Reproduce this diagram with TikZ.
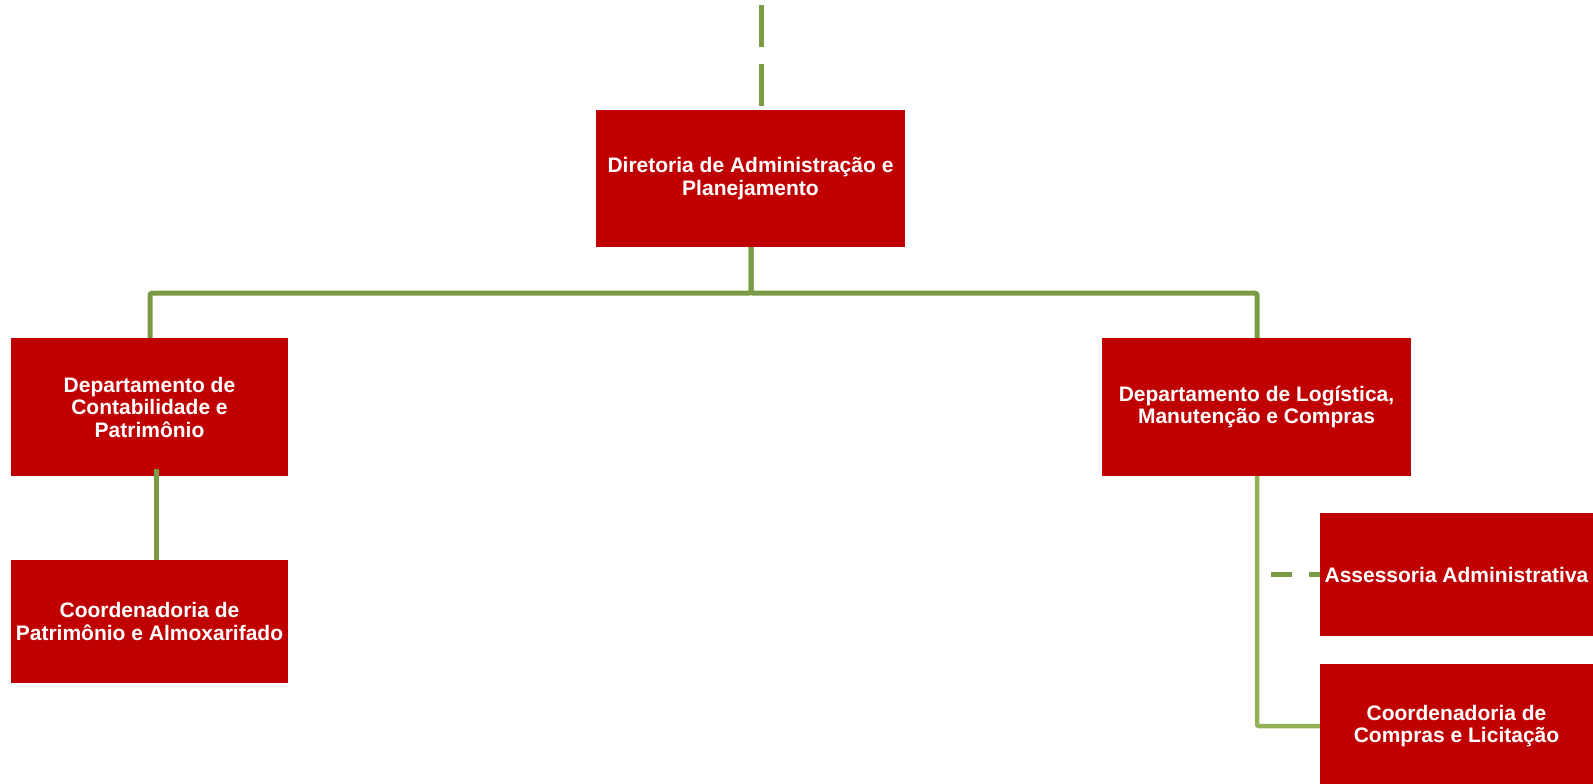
\documentclass[tikz,border=0pt]{standalone}
\usepackage{fontspec}
\setmainfont{Liberation Sans}
\definecolor{boxred}{HTML}{C00000}
\definecolor{lineg}{HTML}{7A9A45}
\definecolor{lineglight}{HTML}{93B155}
\begin{document}
\begin{tikzpicture}[x=1pt,y=-1pt,
  unit/.style={fill=boxred,text=white,font=\fontsize{21}{22.5}\selectfont\bfseries,align=center,inner sep=0pt,anchor=center},
  conn/.style={draw=lineg,line width=5pt},
  connl/.style={draw=lineglight,line width=4.5pt},
  dconn/.style={draw=lineg,line width=5pt,dash pattern=on 42pt off 17pt},
  dconns/.style={draw=lineg,line width=5pt,dash pattern=on 21pt off 17pt}]
\useasboundingbox (0,0) rectangle (1593,784);
\begin{scope}
\clip (0,0) rectangle (1593,784);
\node[unit,minimum width=309pt,minimum height=137pt] (top) at (750.5,178.5) {Diretoria de Administração e\\Planejamento};
\node[unit,minimum width=277pt,minimum height=138pt] (left) at (149.5,407) {Departamento de\\Contabilidade e\\Patrimônio};
\node[unit,minimum width=277pt,minimum height=123pt] (leftb) at (149.5,621.5) {Coordenadoria de\\Patrimônio e Almoxarifado};
\node[unit,minimum width=309pt,minimum height=138pt] (right) at (1256.5,407) {Departamento de Logística,\\Manutenção e Compras};
\node[unit,minimum width=273pt,minimum height=123pt] (assess) at (1456.5,574.5) {Assessoria Administrativa};
\node[unit,minimum width=273pt,minimum height=124pt] (compras) at (1456.5,726) {Coordenadoria de\\Compras e Licitação};
\end{scope}
\coordinate (topin) at (761,5);
\coordinate (assin) at (1271,574.5);
\draw[dconn] (topin) -- (topin |- top.north);
\draw[conn,rounded corners=2pt] ([xshift=0.5pt]top.south) -- ++(0,46) -| ([xshift=0.5pt]left.north);
\draw[conn,rounded corners=2pt] ([xshift=0.5pt]top.south) -- ++(0,46) -| ([xshift=0.5pt]right.north);
\draw[conn] ([xshift=6.5pt,yshift=7pt]left.south) -- ([xshift=6.5pt]leftb.north);
\draw[connl,rounded corners=2pt] ([xshift=0.5pt]right.south) |- (compras.west);
\draw[dconns] (assin) -- (assess.west);
\end{tikzpicture}
\end{document}
